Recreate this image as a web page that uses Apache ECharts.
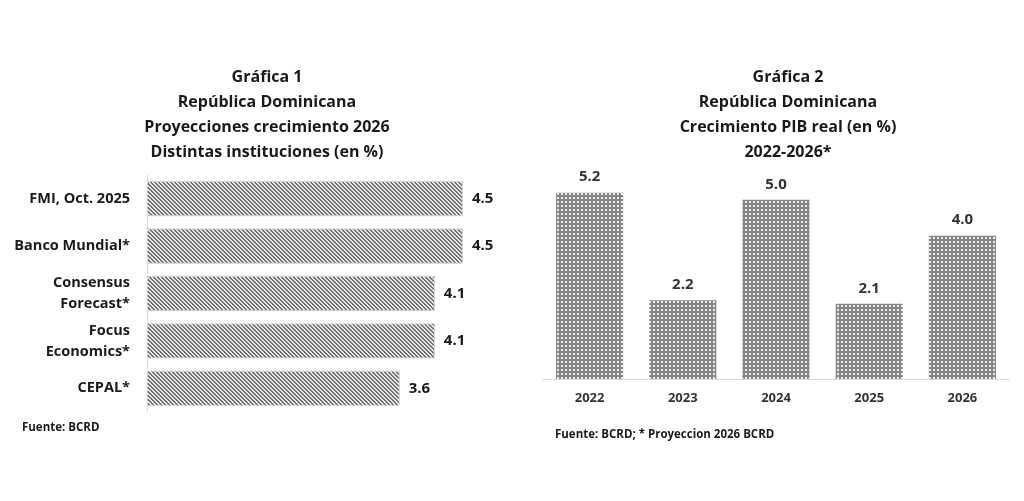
<!DOCTYPE html>
<html>
<head>
<meta charset="utf-8">
<script src="https://cdn.jsdelivr.net/npm/echarts@6/dist/echarts.min.js"></script>
<style>
  html, body { margin: 0; padding: 0; background: #fff; }
  #chart { width: 1024px; height: 501px; }
</style>
</head>
<body>
<div id="chart"></div>
<script>
// Gráfica 1: proyecciones por institución
const institutions = ['FMI, Oct. 2025', 'Banco Mundial*', 'Consensus\nForecast*', 'Focus\nEconomics*', 'CEPAL*'];
const projections = [4.5, 4.5, 4.1, 4.1, 3.6];

// Gráfica 2: crecimiento PIB real
const years = ['2022', '2023', '2024', '2025', '2026'];
const growth = [5.2, 2.2, 5.0, 2.1, 4.0];

const FONT = '"Open Sans", Lato, sans-serif';

// patrones de relleno (rayado diagonal y trama)
function makePattern(size, isDark, dark, light) {
  const c = document.createElement('canvas');
  c.width = size; c.height = size;
  const ctx = c.getContext('2d');
  for (let y = 0; y < size; y++) {
    for (let x = 0; x < size; x++) {
      ctx.fillStyle = isDark(x, y) ? dark : light;
      ctx.fillRect(x, y, 1, 1);
    }
  }
  return c;
}

const hatch = makePattern(4, (x, y) => ((x - y + 8) % 4) < 2, '#737373', '#e4e4e4');
const trellis = makePattern(4, (x, y) => !((x % 4 === 1 || x % 4 === 2) && (y % 4 === 1 || y % 4 === 2)), '#858585', '#ececec');

const titleStyle = { fontFamily: FONT, fontSize: 16, fontWeight: 'bold', color: '#1a1a1a', lineHeight: 25, align: 'center' };
const footStyle = { fontFamily: FONT, fontSize: 11.5, fontWeight: 'bold', color: '#1a1a1a' };

const chart = echarts.init(document.getElementById('chart'));

chart.setOption({
  backgroundColor: '#fff',
  animation: false,
  title: [
    { text: 'Gráfica 1\nRepública Dominicana\nProyecciones crecimiento 2026\nDistintas instituciones (en %)', left: 262, top: 60, textAlign: 'center', textStyle: titleStyle },
    { text: 'Gráfica 2\nRepública Dominicana\nCrecimiento PIB real (en %)\n2022-2026*', left: 783, top: 60, textAlign: 'center', textStyle: titleStyle },
    { text: 'Fuente: BCRD', left: 17, top: 417, textStyle: footStyle },
    { text: 'Fuente: BCRD; * Proyeccion 2026 BCRD', left: 550, top: 424, textStyle: footStyle }
  ],
  grid: [
    { left: 147, top: 175, width: 351, height: 237 },
    { left: 543, top: 164, width: 466, height: 215 }
  ],
  xAxis: [
    { type: 'value', gridIndex: 0, min: 0, max: 5, show: false },
    {
      type: 'category', gridIndex: 1, data: years,
      axisLine: { lineStyle: { color: '#d9d9d9', width: 1 } },
      axisTick: { show: false },
      axisLabel: { fontFamily: FONT, fontSize: 13, fontWeight: 'bold', color: '#333', margin: 13 }
    }
  ],
  yAxis: [
    {
      type: 'category', gridIndex: 0, data: institutions, inverse: true,
      axisLine: { lineStyle: { color: '#d9d9d9', width: 1 } },
      axisTick: { show: false },
      axisLabel: { fontFamily: FONT, fontSize: 14.5, fontWeight: 'bold', color: '#1a1a1a', margin: 17, lineHeight: 21 }
    },
    { type: 'value', gridIndex: 1, min: 0, max: 6, show: false }
  ],
  series: [
    {
      type: 'bar', xAxisIndex: 0, yAxisIndex: 0,
      data: projections,
      barCategoryGap: '26%',
      itemStyle: { color: { image: hatch, repeat: 'repeat' }, borderColor: '#cfcfcf', borderWidth: 1 },
      label: {
        show: true, position: 'right', distance: 9,
        formatter: p => p.value.toFixed(1),
        fontFamily: FONT, fontSize: 15, fontWeight: 'bold', color: '#1a1a1a'
      }
    },
    {
      type: 'bar', xAxisIndex: 1, yAxisIndex: 1,
      data: growth,
      barCategoryGap: '28%',
      itemStyle: { color: { image: trellis, repeat: 'repeat' } },
      label: {
        show: true, position: 'top', distance: 8,
        formatter: p => p.value.toFixed(1),
        fontFamily: FONT, fontSize: 15, fontWeight: 'bold', color: '#333'
      }
    }
  ]
});
</script>
</body>
</html>
